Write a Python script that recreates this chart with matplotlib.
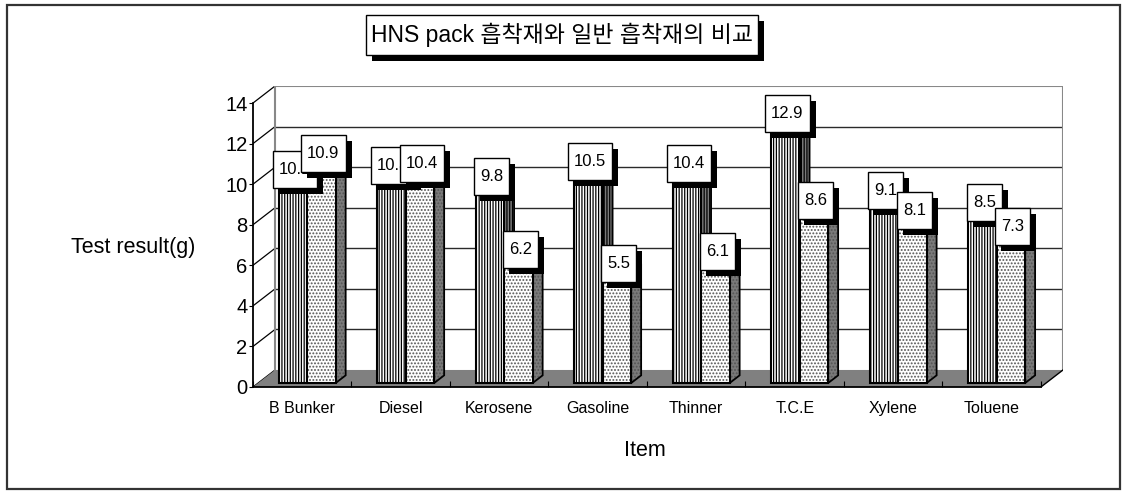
import matplotlib.pyplot as plt
from matplotlib.patches import Polygon, Rectangle
from matplotlib.transforms import Affine2D, ScaledTranslation

plt.rcParams['font.family'] = ['Liberation Sans', 'Noto Sans CJK KR', 'DejaVu Sans']
plt.rcParams['hatch.linewidth'] = 0.9

items = ['B Bunker', 'Diesel', 'Kerosene', 'Gasoline', 'Thinner', 'T.C.E', 'Xylene', 'Toluene']
hns = [10.1, 10.3, 9.8, 10.5, 10.4, 12.9, 9.1, 8.5]
normal = [10.9, 10.4, 6.2, 5.5, 6.1, 8.6, 8.1, 7.3]
yticks = [0, 2, 4, 6, 8, 10, 12, 14]

W, H = 1123, 491
fig = plt.figure(figsize=(W / 100, H / 100), dpi=100)
ax = fig.add_axes([253 / W, (H - 387) / H, 810 / W, 301 / H])

# fake 3d: depth offset of the back wall, in data units
dx, dy = 0.224, 0.84
ymax = yticks[-1]
n = len(items)
ax.set_xlim(0, n + dx)
ax.set_ylim(0, ymax + dy)

# back wall + left wall
for y in yticks[1:-1]:
    ax.plot([dx, n + dx], [y + dy, y + dy], color='#2a2a2a', lw=1, zorder=1)
for y in yticks:
    ax.plot([0, dx], [y, y + dy], color='k', lw=0.9, zorder=1)
ax.plot([dx, n + dx], [ymax + dy, ymax + dy], color='#888888', lw=1.5, zorder=1)
ax.plot([dx, dx], [dy, ymax + dy], color='#888888', lw=1.5, zorder=1)
ax.plot([n + dx, n + dx], [dy, ymax + dy], color='#888888', lw=1.5, zorder=1)

# floor
ax.add_patch(Polygon([(0, 0), (n, 0), (n + dx, dy), (dx, dy)], closed=True,
                     fc='#808080', ec='none', zorder=1))
ax.plot([n, n + dx], [0, dy], color='k', lw=1, zorder=2)

# bars
w = 0.29
offs = [0.26, 0.55]
by0 = 0.235 * dy
bdx, bdy = 0.45 * dx, 0.45 * dy
styles = [('||||||', 'k'), ('.....', '#555555')]

for i in range(n):
    for s, vals in enumerate([hns, normal]):
        v = vals[i]
        x0 = i + offs[s]
        x1 = x0 + w
        hatch, hc = styles[s]
        top = v + by0
        side = [(x1, by0), (x1 + bdx, by0 + bdy), (x1 + bdx, top + bdy), (x1, top)]
        ax.add_patch(Polygon(side, closed=True, fc='#7a7a7a', ec=hc, hatch=hatch, lw=0, zorder=3))
        ax.add_patch(Polygon(side, closed=True, fc='none', ec='k', lw=1.3, zorder=3))
        lid = [(x0, top), (x0 + bdx, top + bdy), (x1 + bdx, top + bdy), (x1, top)]
        ax.add_patch(Polygon(lid, closed=True, fc='white', ec='k', lw=1.3, zorder=3))
        ax.bar(x0, v, width=w, bottom=by0, align='edge', color='white',
               edgecolor=hc, hatch=hatch, lw=0, zorder=3)
        ax.bar(x0, v, width=w, bottom=by0, align='edge', color='none',
               edgecolor='k', lw=1.5, zorder=3)

# axes
for sp in ['top', 'right']:
    ax.spines[sp].set_visible(False)
ax.spines['left'].set_bounds(0, ymax)
ax.spines['bottom'].set_bounds(0, n)
ax.spines['left'].set_linewidth(1.3)
ax.spines['bottom'].set_linewidth(1.3)
ax.set_yticks(yticks)
ax.tick_params(axis='y', labelsize=14.5, length=3, pad=1)
ax.set_xticks(range(n + 1))
ax.set_xticklabels([])
ax.tick_params(axis='x', which='major', direction='in', length=4)
ax.set_xticks([i + 0.5 for i in range(n)], minor=True)
ax.set_xticklabels(items, minor=True, fontsize=11.5)
ax.tick_params(axis='x', which='minor', length=0, pad=10)

fig.text(133 / W, 1 - 248 / H, 'Test result(g)', ha='center', va='center', fontsize=15.5)
fig.text(645 / W, 1 - 450 / H, 'Item', ha='center', va='center', fontsize=15.5)

# value labels: text first, boxes sized from the rendered text
labels = []
for s, vals in enumerate([hns, normal]):
    for i, v in enumerate(vals):
        xc = i + offs[s] + w / 2 + 0.02
        t = ax.text(xc, v + 0.6, f'{v}', ha='center', va='center', fontsize=12,
                    zorder=5 + s + 0.05)
        labels.append((t, xc, v + 0.6, 5 + s))

tt = fig.text(562 / W, 1 - 35 / H, 'HNS pack 흡착재와 일반 흡착재의 비교', ha='center',
              va='center', fontsize=16.5, zorder=10)

fig.canvas.draw()
r = fig.canvas.get_renderer()


def shadow_box(ax_or_fig, t, x, y, trans, padx, bh, z, off=6):
    bb = t.get_window_extent(r)
    bw = bb.width + 2 * padx
    tr = Affine2D() + ScaledTranslation(x, y, trans)
    sh = Rectangle((-bw / 2 + off, -bh / 2 - off), bw, bh, transform=tr,
                   fc='k', ec='none', zorder=z - 0.02)
    bx = Rectangle((-bw / 2, -bh / 2), bw, bh, transform=tr,
                   fc='white', ec='k', lw=1, zorder=z)
    for p in (sh, bx):
        ax_or_fig.add_artist(p)


for t, xc, yc, z in labels:
    shadow_box(ax, t, xc, yc, ax.transData, 6, 37, z)

shadow_box(fig, tt, 562 / W, 1 - 35 / H, fig.transFigure, 5, 40, 9, off=6)

fig.add_artist(Rectangle((7 / W, 2 / H), 1113 / W, 484 / H, transform=fig.transFigure,
                         fill=False, ec='#333333', lw=1.6))

fig.savefig('out.png', dpi=100)
